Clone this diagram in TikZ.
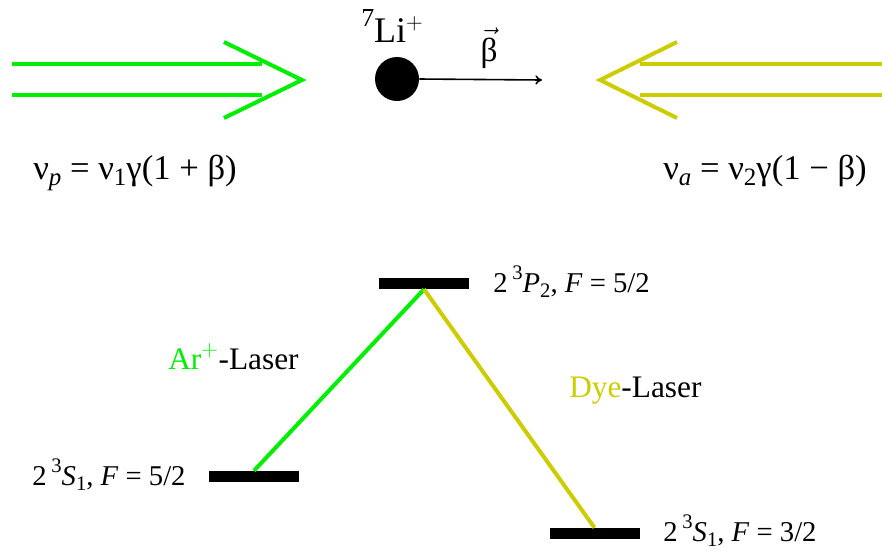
\documentclass[tikz,border=0pt]{standalone}
\usepackage{amsmath}
\usepackage{graphicx}
\usepackage{fontspec}
\setmainfont{Liberation Serif}
\usepackage{xcolor}
\usepackage{tikz}
\usetikzlibrary{positioning,arrows.meta}
\definecolor{argreen}{RGB}{0,238,0}
\definecolor{dyeyellow}{RGB}{204,204,0}
\newcommand{\supr}[1]{\raisebox{0.42em}{\scalebox{0.72}{#1}}}
\newcommand{\subr}[1]{\raisebox{-0.2em}{\scalebox{0.72}{#1}}}
\newcommand{\lvl}[3]{2\,\supr{3}\textit{#1}\subr{#2}, \textit{F} = #3}

\begin{document}
\begin{tikzpicture}[
    x=0.75pt, y=-0.75pt,
    beam/.style={line width=3pt, line join=miter},
    trans/.style={line width=3pt},
    level/.style={fill=black, inner sep=0pt, minimum width=67.5pt, minimum height=8.25pt},
    txt/.style={inner sep=0pt, anchor=base west},
    eqn/.style={txt, font=\fontsize{26}{30}\selectfont},
    laser/.style={txt, font=\fontsize{23.5}{28}\selectfont},
    state/.style={txt, font=\fontsize{21.5}{25}\selectfont}
]
\useasboundingbox (0,0) rectangle (882,551);

% counter-propagating beams
\draw[beam,argreen] (12,64) -- (262,64) (12,95) -- (262,95);
\draw[beam,argreen] (224,42) -- (302,80) -- (224,118);
\draw[beam,dyeyellow] (640,64) -- (882,64) (640,95) -- (882,95);
\draw[beam,dyeyellow] (677,42) -- (600,80) -- (677,118);

% ion
\node[circle,fill=black,inner sep=0pt,minimum size=33pt] (ion) at (397,79) {};
\coordinate (vtip) at (542,80);
\draw[line width=1.2pt,-{To[length=5pt,width=7pt]}] (ion.east) -- (vtip);
\node[txt,font=\fontsize{27}{31}\selectfont] (li) at (361,42) {\supr{7}Li$^{+}$};
\node[inner sep=0pt,anchor=base,font=\fontsize{25}{29}\selectfont] (beta) at (489,61) {$\vec{\text{β}}$};

\node[eqn] (nup) at (33,179) {ν\subr{\textit{p}} = ν\subr{1}γ(1 + β)};
\node[eqn] (nua) at (663,179) {ν\subr{\textit{a}} = ν\subr{2}γ(1 − β)};

% levels
\node[level] (p2) at (424,283.5) {};
\node[level] (s52) at (254,476.5) {};
\node[level] (s32) at (594.5,533.5) {};

\draw[trans,argreen] (s52.north) -- (p2.south);
\draw[trans,dyeyellow] (p2.south) -- (s32.north);

\node[state] (p2lbl) at (493,292) {\lvl{P}{2}{5/2}};
\node[state] (s52lbl) at (32,485) {\lvl{S}{1}{5/2}};
\node[state] (s32lbl) at (663,541) {\lvl{S}{1}{3/2}};

\node[laser] (arlbl) at (168,369) {\textcolor{argreen}{Ar$^{+}$}-Laser};
\node[laser] (dyelbl) at (569,397) {\textcolor{dyeyellow}{Dye}-Laser};

\end{tikzpicture}
\end{document}
